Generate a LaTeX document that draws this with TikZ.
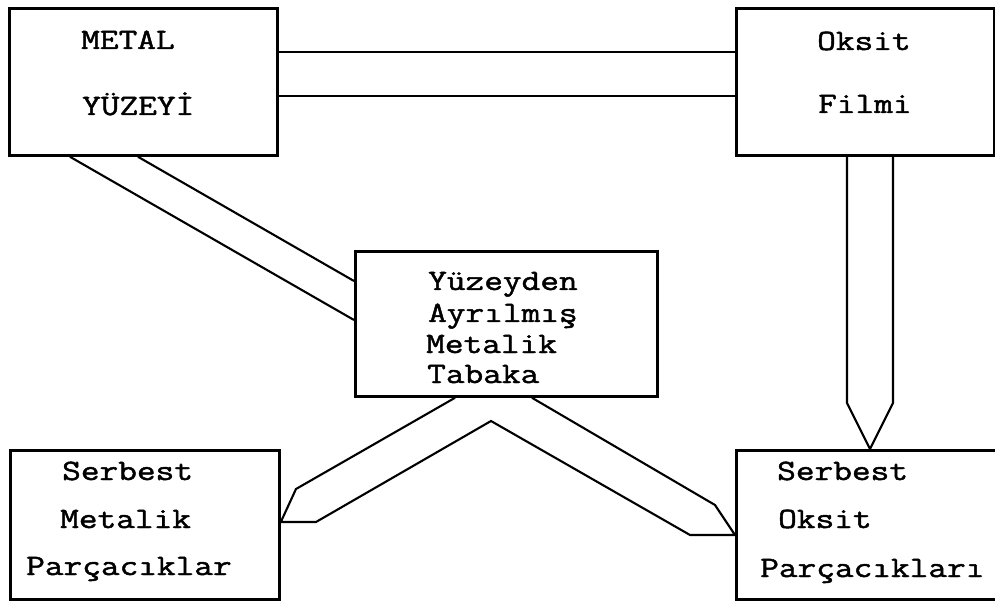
\documentclass[tikz,border=0pt]{standalone}
\usepackage{fontspec}
\newfontfamily\typefont{Latin Modern Mono}[FakeStretch=1.23,FakeBold=1.6]
\usetikzlibrary{calc}
\begin{document}
\begin{tikzpicture}[x=1pt,y=-1pt,
  box/.style={draw, line width=2.8pt, inner sep=0pt, anchor=north west},
  link/.style={line width=2.1pt, line join=miter},
  lbl/.style={anchor=base west, inner sep=0pt,
    font=\typefont\fontsize{29.5}{29.5}\selectfont}]
\useasboundingbox (0,0) rectangle (995,601);

% boxes
\node[box, minimum width=268pt, minimum height=147pt] (metal) at (8,7) {};
\node[box, minimum width=258pt, minimum height=147pt] (oksit) at (735,7) {};
\node[box, minimum width=302pt, minimum height=145pt] (yuzey) at (354,250) {};
\node[box, minimum width=269pt, minimum height=149pt] (smetal) at (9,449) {};
\node[box, minimum width=270pt, minimum height=149pt] (soksit) at (735,449) {};

% labels
\node[lbl] (m1) at (81,49) {METAL};
\node[lbl] (m2) at (82,115) {YÜZEYİ};
\node[lbl] (o1) at (817,50) {Oksit};
\node[lbl] (o2) at (818,113) {Filmi};
\node[lbl] (y1) at (428,290) {Yüzeyden};
\node[lbl] (y2) at (428,322) {Ayrılmış};
\node[lbl] (y3) at (426,353) {Metalik};
\node[lbl] (y4) at (427,383) {Tabaka};
\node[lbl] (s1) at (62,480) {Serbest};
\node[lbl] (s2) at (60,528) {Metalik};
\node[lbl] (s3) at (26,575) {Parçacıklar};
\node[lbl] (k1) at (777,480) {Serbest};
\node[lbl] (k2) at (778,528) {Oksit};
\node[lbl] (k3) at (760,577) {Parçacıkları};

% metal surface <-> oxide film
\draw[link] (metal.east |- 0,52) -- (oksit.west |- 0,52);
\draw[link] (metal.east |- 0,96) -- (oksit.west |- 0,96);

% metal surface -> detached metallic layer
\draw[link] ($(metal.south west)+(62,0)$) -- (yuzey.west |- 0,320);
\draw[link] ($(metal.south west)+(130,0)$) -- (yuzey.west |- 0,281);

% detached layer -> free metallic / free oxide particles
\draw[link] ($(yuzey.south west)+(101,0)$) -- (296,489)
  -- (smetal.east |- 0,522) -- (316,522) -- (491,421) -- (690,535)
  -- (soksit.west |- 0,535) -- (715,505) -- ($(yuzey.south west)+(178,0)$);

% oxide film -> free oxide particles
\draw[link] (oksit.south -| 847,0) -- (847,403) -- (soksit.north -| 870,0)
  -- (893,403) -- (oksit.south -| 893,0);
\end{tikzpicture}
\end{document}
